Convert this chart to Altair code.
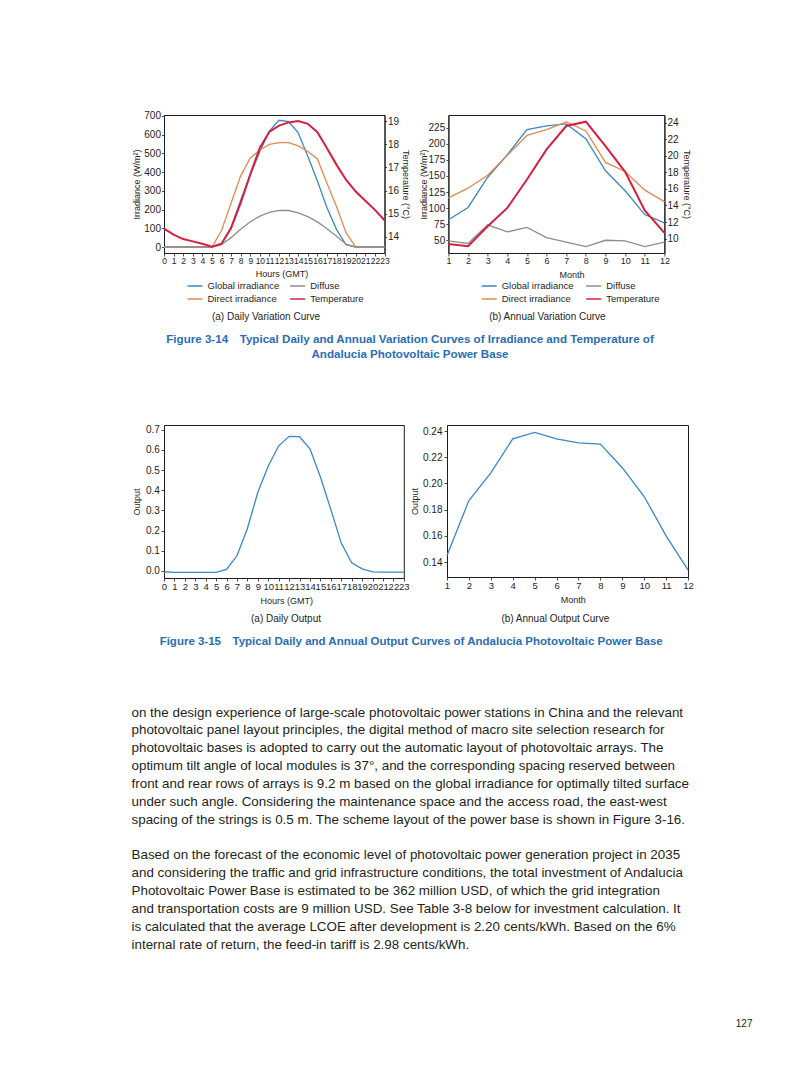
import altair as alt
import pandas as pd

FONT = "Liberation Sans"
INK = "#1e1e1e"
BLUE = "#3b87c7"
ORANGE = "#e38a50"
GRAY = "#8e8e8e"
RED = "#d81f3e"
CAP_BLUE = "#2a6db4"

# ---------------- data ----------------
hours = list(range(24))
global_daily = [0, 0, 0, 0, 0, 0, 15, 105, 250, 385, 510, 620, 677, 670, 610, 485, 352, 210, 93, 12, 0, 0, 0, 0]
direct_daily = [0, 0, 0, 0, 0, 0, 88, 235, 380, 476, 518, 548, 557, 557, 540, 510, 470, 340, 215, 75, 0, 0, 0, 0]
diffuse_daily = [0, 0, 0, 0, 0, 0, 12, 50, 95, 135, 165, 185, 196, 195, 182, 162, 134, 98, 57, 15, 0, 0, 0, 0]
temp_daily = [14.36, 14.10, 13.91, 13.81, 13.71, 13.58, 13.71, 14.39, 15.47, 16.70, 17.85, 18.54,
              18.80, 18.94, 19.00, 18.88, 18.52, 17.83, 17.11, 16.46, 15.96, 15.56, 15.17, 14.72]

months = list(range(1, 13))
global_annual = [82, 101, 148, 183, 222, 228, 231, 208, 158, 127, 90, 77]
direct_annual = [116, 131, 151, 182, 213, 222, 234, 220, 171, 157, 128, 110]
diffuse_annual = [49, 45, 74, 63, 70, 54, 47, 40, 50, 49, 40, 47]
temp_annual = [9.35, 9.07, 11.49, 13.71, 17.14, 20.77, 23.60, 24.12, 21.18, 18.06, 13.39, 10.69]

output_daily = [-0.004, -0.007, -0.007, -0.007, -0.007, -0.007, 0.008, 0.075, 0.21, 0.39, 0.52, 0.62,
                0.667, 0.665, 0.605, 0.465, 0.305, 0.138, 0.04, 0.01, -0.005, -0.006, -0.006, -0.006]
output_annual = [0.145, 0.187, 0.208, 0.234, 0.239, 0.234, 0.231, 0.230, 0.212, 0.190, 0.160, 0.134]

# legend fills column by column: (Global, Direct) | (Diffuse, Temperature)
series_names = ["Global irradiance", "Direct irradiance", "Diffuse", "Temperature"]
series_colors = [BLUE, ORANGE, GRAY, RED]

irr_ticks_daily = [0, 100, 200, 300, 400, 500, 600, 700]
temp_ticks_daily = [14, 15, 16, 17, 18, 19]
irr_ticks_annual = [50, 75, 100, 125, 150, 175, 200, 225]
temp_ticks_annual = [10, 12, 14, 16, 18, 20, 22, 24]
out_ticks_daily = [0.0, 0.1, 0.2, 0.3, 0.4, 0.5, 0.6, 0.7]
out_ticks_annual = [0.14, 0.16, 0.18, 0.20, 0.22, 0.24]

sub_daily_var = "(a) Daily Variation Curve"
sub_annual_var = "(b) Annual Variation Curve"
sub_daily_out = "(a) Daily Output"
sub_annual_out = "(b) Annual Output Curve"

caption1 = ["Figure 3-14\u2003Typical Daily and Annual Variation Curves of Irradiance and Temperature of",
            "Andalucia Photovoltaic Power Base"]
caption2 = "Figure 3-15\u2003Typical Daily and Annual Output Curves of Andalucia Photovoltaic Power Base"

paragraph1 = [
    "on the design experience of large-scale photovoltaic power stations in China and the relevant",
    "photovoltaic panel layout principles, the digital method of macro site selection research for",
    "photovoltaic bases is adopted to carry out the automatic layout of photovoltaic arrays. The",
    "optimum tilt angle of local modules is 37\u00b0, and the corresponding spacing reserved between",
    "front and rear rows of arrays is 9.2 m based on the global irradiance for optimally tilted surface",
    "under such angle. Considering the maintenance space and the access road, the east-west",
    "spacing of the strings is 0.5 m. The scheme layout of the power base is shown in Figure 3-16.",
]
paragraph2 = [
    "Based on the forecast of the economic level of photovoltaic power generation project in 2035",
    "and considering the traffic and grid infrastructure conditions, the total investment of Andalucia",
    "Photovoltaic Power Base is estimated to be 362 million USD, of which the grid integration",
    "and transportation costs are 9 million USD. See Table 3-8 below for investment calculation. It",
    "is calculated that the average LCOE after development is 2.20 cents/kWh. Based on the 6%",
    "internal rate of return, the feed-in tariff is 2.98 cents/kWh.",
]
page_number = "127"


# ---------------- helpers ----------------
def axis(**kw):
    base = dict(grid=False, labelFont=FONT, titleFont=FONT, labelColor=INK, titleColor=INK,
                tickColor=INK, domainColor=INK, titleFontWeight="normal", labelFontSize=10,
                titleFontSize=9, tickSize=3, labelPadding=1, domainWidth=1, tickWidth=0.8)
    base.update(kw)
    return alt.Axis(**base)


def legend(x, y, colpad):
    return alt.Legend(orient="none", legendX=x, legendY=y, columns=2, title=None,
                      symbolType="stroke", symbolSize=225, symbolStrokeWidth=1.5,
                      labelFont=FONT, labelFontSize=9.5, labelColor=INK, labelOffset=4,
                      columnPadding=colpad, rowPadding=0, padding=0)


def subtitle(text, x, y):
    return alt.Chart(pd.DataFrame({"t": [text]})).mark_text(
        font=FONT, fontSize=10, color=INK, align="center", baseline="middle"
    ).encode(x=alt.value(x), y=alt.value(y), text="t:N")


def variation_chart(xvals, xname, x_axis, g, d, f, t, irr_dom, irr_ticks, irr_axis_kw,
                    t_dom, t_ticks, t_axis_kw, leg, sub, width, height):
    n = len(xvals)
    irr = pd.DataFrame({
        xname: xvals * 3,
        "value": g + d + f,
        "series": ["Global irradiance"] * n + ["Direct irradiance"] * n + ["Diffuse"] * n,
    })
    tmp = pd.DataFrame({xname: xvals, "temp": t, "series": ["Temperature"] * n})
    color = alt.Color("series:N", scale=alt.Scale(domain=series_names, range=series_colors), legend=leg)
    irr_layer = alt.Chart(irr).mark_line(strokeWidth=1.3).encode(
        x=x_axis,
        y=alt.Y("value:Q", scale=alt.Scale(domain=irr_dom, nice=False, zero=False),
                axis=axis(orient="left", values=irr_ticks, title="Irradiance (W/m\u00b2)", **irr_axis_kw)),
        color=color,
    )
    t_layer = alt.Chart(tmp).mark_line(strokeWidth=2).encode(
        x=x_axis,
        y=alt.Y("temp:Q", scale=alt.Scale(domain=t_dom, nice=False, zero=False),
                axis=axis(orient="right", values=t_ticks, title="Temperature (\u00b0C)", **t_axis_kw)),
        color=color,
    )
    return alt.layer(irr_layer, t_layer, sub).resolve_scale(y="independent").properties(
        width=width, height=height)


# ---------------- chart (a) daily variation ----------------
x_hours_1 = alt.X("hour:Q", scale=alt.Scale(domain=[0, 23], nice=False, zero=False),
                  axis=axis(values=hours, title="Hours (GMT)", labelFontSize=8.5, labelPadding=0.5,
                            titleX=117.5, titleY=16.8, labelFlush=False, labelOverlap=False, labelBound=False))
ch1 = variation_chart(
    hours, "hour", x_hours_1, global_daily, direct_daily, diffuse_daily, temp_daily,
    [-32, 705], irr_ticks_daily, dict(tickSize=2.5, labelPadding=1, minExtent=20, maxExtent=20, titlePadding=2.5),
    [13.31, 19.26], temp_ticks_daily, dict(tickSize=2, labelPadding=1, minExtent=13.3, maxExtent=13.3, titlePadding=3),
    legend(22.5, 162.5, 7.7), subtitle(sub_daily_var, 102, 202), 220.5, 138)

# ---------------- chart (b) annual variation ----------------
x_months_2 = alt.X("month:Q", scale=alt.Scale(domain=[1, 12], nice=False, zero=False),
                   axis=axis(values=months, title="Month", labelFontSize=9, labelPadding=0.5,
                             titleX=123, titleY=17.2, labelFlush=False, labelOverlap=False))
ch2 = variation_chart(
    months, "month", x_months_2, global_annual, direct_annual, diffuse_annual, temp_annual,
    [30.2, 244.8], irr_ticks_annual, dict(tickSize=2.5, labelPadding=1.2, minExtent=19.5, maxExtent=19.5, titlePadding=0.5),
    [8.26, 24.93], temp_ticks_annual, dict(tickSize=2, labelPadding=0.5, minExtent=13, maxExtent=13, titlePadding=4),
    legend(32.3, 162.5, 9.5), subtitle(sub_annual_var, 99, 202), 216, 138)

row1 = alt.hconcat(ch1, ch2, spacing=7.4).resolve_scale(color="independent").resolve_legend(color="independent")

# ---------------- chart (a) daily output ----------------
d_out = pd.DataFrame({"hour": hours, "output": output_daily})
ch3_line = alt.Chart(d_out).mark_line(color=BLUE, strokeWidth=1.3).encode(
    x=alt.X("hour:Q", scale=alt.Scale(domain=[0, 23], nice=False, zero=False),
            axis=axis(values=hours, title="Hours (GMT)", labelFontSize=9.5, labelPadding=0,
                      titleX=122.3, titleY=18.7, labelFlush=False, labelOverlap=False, labelBound=False)),
    y=alt.Y("output:Q", scale=alt.Scale(domain=[-0.035, 0.723], nice=False, zero=False),
            axis=axis(values=out_ticks_daily, format=".1f", title="Output", tickSize=3, labelPadding=1.7,
                      minExtent=18.7, maxExtent=18.7, titlePadding=3.8)),
)
ch3 = alt.layer(ch3_line, subtitle(sub_daily_out, 122, 194)).properties(width=239.8, height=153)

# ---------------- chart (b) annual output ----------------
a_out = pd.DataFrame({"month": months, "output": output_annual})
ch4_line = alt.Chart(a_out).mark_line(color=BLUE, strokeWidth=1.3).encode(
    x=alt.X("month:Q", scale=alt.Scale(domain=[1, 12], nice=False, zero=False),
            axis=axis(values=months, title="Month", labelFontSize=9.5, labelPadding=0,
                      titleX=125.8, titleY=18.5, labelFlush=False, labelOverlap=False)),
    y=alt.Y("output:Q", scale=alt.Scale(domain=[0.1286, 0.2446], nice=False, zero=False),
            axis=axis(values=out_ticks_annual, format=".2f", title="Output", tickSize=3, labelPadding=2,
                      minExtent=24.5, maxExtent=24.5, titlePadding=2.6)),
)
ch4 = alt.layer(ch4_line, subtitle(sub_annual_out, 108.3, 194)).properties(width=241, height=152)

row2 = alt.hconcat(ch3, ch4, spacing=0)

# ---------------- text blocks ----------------
NOFRAME = alt.ViewBackground(strokeOpacity=0)

cap1_df = pd.DataFrame({"line": list(range(len(caption1))), "text": caption1})
cap1 = alt.Chart(cap1_df).mark_text(
    font=FONT, fontSize=11.6, fontWeight="bold", color=CAP_BLUE, align="center", baseline="middle"
).encode(
    x=alt.value(246),
    y=alt.Y("line:Q", scale=alt.Scale(domain=[0, 1], range=[17, 32]), axis=None),
    text="text:N",
).properties(width=500, height=100.9, view=NOFRAME)

cap2_layer = alt.Chart(pd.DataFrame({"text": [caption2]})).mark_text(
    font=FONT, fontSize=11.5, fontWeight="bold", color=CAP_BLUE, align="center", baseline="middle"
).encode(x=alt.value(247.2), y=alt.value(16.6), text="text:N")

para_text = paragraph1 + paragraph2
para_line = list(range(len(paragraph1))) + [len(paragraph1) + 1 + i for i in range(len(paragraph2))]
para_df = pd.DataFrame({"line": para_line, "text": para_text})
para_layer = alt.Chart(para_df).mark_text(
    font=FONT, fontSize=13.4, color="#231f20", align="left", baseline="middle"
).encode(
    x=alt.value(-32.5),
    y=alt.Y("line:Q", scale=alt.Scale(domain=[0, 13], range=[87.6, 319.6]), axis=None),
    text="text:N",
)
page_layer = alt.Chart(pd.DataFrame({"text": [page_number]})).mark_text(
    font=FONT, fontSize=10, color="#231f20", align="right", baseline="middle"
).encode(x=alt.value(588.5), y=alt.value(398.6), text="text:N")

rest = alt.layer(cap2_layer, para_layer, page_layer).properties(width=595, height=410, view=NOFRAME)

chart = alt.vconcat(row1, cap1, row2, rest, spacing=0).properties(
    padding={"left": 123, "top": 102, "right": 10, "bottom": 5}
).configure(font=FONT).configure_view(stroke=INK, strokeWidth=1)

chart.save("out.html", embed_options={"renderer": "svg", "actions": False})
